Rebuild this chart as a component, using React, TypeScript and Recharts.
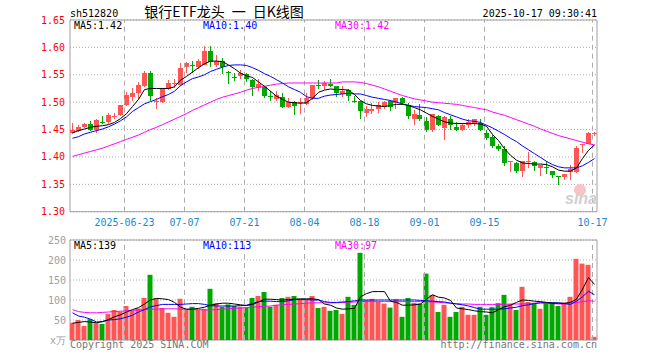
import React from 'react';
import {
  ComposedChart,
  Bar,
  Line,
  XAxis,
  YAxis,
  CartesianGrid,
  ReferenceLine,
  ReferenceArea,
  Cell,
} from 'recharts';

// trading days shown, 2025
const dates = (
  '06-10 06-11 06-12 06-13 06-16 06-17 06-18 06-19 06-20 06-23 06-24 06-25 06-26 06-27 06-30 ' +
  '07-01 07-02 07-03 07-04 07-07 07-08 07-09 07-10 07-11 07-14 07-15 07-16 07-17 07-18 07-21 ' +
  '07-22 07-23 07-24 07-25 07-28 07-29 07-30 07-31 08-01 08-04 08-05 08-06 08-07 08-08 08-11 ' +
  '08-12 08-13 08-14 08-15 08-18 08-19 08-20 08-21 08-22 08-25 08-26 08-27 08-28 08-29 09-01 ' +
  '09-02 09-03 09-04 09-05 09-08 09-09 09-10 09-11 09-12 09-15 09-16 09-17 09-18 09-19 09-22 ' +
  '09-23 09-24 09-25 09-26 09-29 09-30 10-09 10-10 10-13 10-14 10-15 10-16 10-17'
).split(' ');

const open = [
  1.443, 1.448, 1.454, 1.461, 1.45, 1.464, 1.464, 1.472, 1.476, 1.494,
  1.51, 1.516, 1.529, 1.553, 1.502, 1.5, 1.524, 1.534, 1.531, 1.564,
  1.568, 1.565, 1.568, 1.594, 1.567, 1.576, 1.555, 1.546, 1.547, 1.551,
  1.54, 1.525, 1.527, 1.511, 1.505, 1.51, 1.492, 1.5, 1.499, 1.496,
  1.507, 1.531, 1.529, 1.534, 1.529, 1.515, 1.523, 1.503, 1.502, 1.481,
  1.483, 1.487, 1.492, 1.502, 1.498, 1.507, 1.494, 1.47, 1.476, 1.466,
  1.45, 1.475, 1.452, 1.47, 1.455, 1.449, 1.459, 1.462, 1.462, 1.444,
  1.436, 1.42, 1.415, 1.39, 1.389, 1.375, 1.391, 1.391, 1.379, 1.381,
  1.374, 1.366, 1.364, 1.372, 1.372, 1.422, 1.423, 1.444,
];
const high = [
  1.462, 1.459, 1.462, 1.466, 1.469, 1.474, 1.48, 1.48, 1.494, 1.518,
  1.525, 1.536, 1.556, 1.556, 1.507, 1.525, 1.541, 1.542, 1.572, 1.573,
  1.575, 1.579, 1.603, 1.603, 1.586, 1.58, 1.557, 1.554, 1.559, 1.554,
  1.542, 1.542, 1.53, 1.521, 1.521, 1.516, 1.507, 1.502, 1.507, 1.516,
  1.532, 1.54, 1.539, 1.543, 1.53, 1.53, 1.524, 1.512, 1.502, 1.493,
  1.499, 1.5, 1.502, 1.504, 1.508, 1.51, 1.498, 1.486, 1.496, 1.472,
  1.478, 1.477, 1.475, 1.474, 1.464, 1.462, 1.469, 1.47, 1.47, 1.45,
  1.44, 1.424, 1.42, 1.393, 1.39, 1.393, 1.409, 1.393, 1.385, 1.392,
  1.375, 1.366, 1.369, 1.386, 1.42, 1.424, 1.445, 1.445,
];
const low = [
  1.441, 1.445, 1.453, 1.447, 1.444, 1.461, 1.461, 1.47, 1.474, 1.493,
  1.502, 1.505, 1.527, 1.502, 1.487, 1.499, 1.523, 1.525, 1.529, 1.554,
  1.554, 1.561, 1.567, 1.564, 1.564, 1.551, 1.533, 1.539, 1.542, 1.537,
  1.512, 1.521, 1.508, 1.502, 1.502, 1.49, 1.49, 1.476, 1.478, 1.494,
  1.504, 1.524, 1.523, 1.527, 1.51, 1.51, 1.502, 1.499, 1.47, 1.472,
  1.478, 1.481, 1.487, 1.484, 1.488, 1.494, 1.47, 1.459, 1.466, 1.445,
  1.445, 1.456, 1.431, 1.45, 1.447, 1.447, 1.453, 1.456, 1.447, 1.43,
  1.416, 1.41, 1.383, 1.372, 1.371, 1.363, 1.38, 1.375, 1.366, 1.368,
  1.361, 1.349, 1.357, 1.358, 1.371, 1.407, 1.423, 1.439,
];
const close = [
  1.45, 1.455, 1.461, 1.449, 1.467, 1.462, 1.477, 1.475, 1.494, 1.513,
  1.516, 1.532, 1.553, 1.512, 1.503, 1.524, 1.535, 1.535, 1.562, 1.572,
  1.567, 1.575, 1.594, 1.574, 1.576, 1.565, 1.554, 1.545, 1.553, 1.543,
  1.527, 1.533, 1.512, 1.51, 1.513, 1.492, 1.5, 1.493, 1.5, 1.507,
  1.531, 1.529, 1.535, 1.53, 1.516, 1.52, 1.512, 1.502, 1.484, 1.487,
  1.488, 1.494, 1.5, 1.492, 1.508, 1.499, 1.474, 1.478, 1.469, 1.45,
  1.478, 1.458, 1.473, 1.458, 1.45, 1.458, 1.464, 1.469, 1.449, 1.434,
  1.42, 1.415, 1.389, 1.392, 1.375, 1.393, 1.392, 1.384, 1.385, 1.38,
  1.367, 1.365, 1.369, 1.378, 1.417, 1.423, 1.444, 1.444,
];

const ma5 = [
  1.444, 1.448, 1.451, 1.454, 1.456, 1.457, 1.459, 1.463, 1.47, 1.479,
  1.492, 1.505, 1.523, 1.525, 1.525, 1.525, 1.525, 1.528, 1.54, 1.547,
  1.555, 1.563, 1.57, 1.575, 1.575, 1.574, 1.568, 1.561, 1.553, 1.548,
  1.545, 1.537, 1.529, 1.52, 1.511, 1.505, 1.5, 1.499, 1.498, 1.499,
  1.507, 1.518, 1.522, 1.524, 1.523, 1.523, 1.522, 1.514, 1.503, 1.497,
  1.494, 1.493, 1.492, 1.494, 1.496, 1.496, 1.494, 1.49, 1.486, 1.48,
  1.474, 1.469, 1.464, 1.462, 1.461, 1.461, 1.461, 1.461, 1.46, 1.456,
  1.441, 1.43, 1.415, 1.403, 1.394, 1.389, 1.388, 1.387, 1.387, 1.386,
  1.382, 1.376, 1.374, 1.374, 1.38, 1.397, 1.412, 1.422,
];
const ma10 = [
  1.434, 1.437, 1.442, 1.445, 1.448, 1.451, 1.455, 1.46, 1.466, 1.473,
  1.483, 1.49, 1.497, 1.501, 1.505, 1.51, 1.514, 1.52, 1.53, 1.537,
  1.543, 1.546, 1.55, 1.556, 1.56, 1.564, 1.567, 1.568, 1.568, 1.567,
  1.563, 1.558, 1.552, 1.547, 1.541, 1.535, 1.528, 1.523, 1.518, 1.51,
  1.507, 1.507, 1.511, 1.513, 1.514, 1.515, 1.516, 1.515, 1.515, 1.512,
  1.509, 1.507, 1.505, 1.503, 1.5, 1.497, 1.494, 1.492, 1.491, 1.49,
  1.488, 1.486, 1.481, 1.477, 1.473, 1.469, 1.466, 1.465, 1.463, 1.458,
  1.453, 1.447, 1.441, 1.434, 1.428, 1.42, 1.413, 1.406, 1.399, 1.392,
  1.386, 1.382, 1.38, 1.38, 1.38, 1.384, 1.39, 1.397,
];
const ma30 = [
  1.401, 1.404, 1.407, 1.41, 1.413, 1.416, 1.42, 1.424, 1.428, 1.432,
  1.436, 1.44, 1.445, 1.45, 1.454, 1.459, 1.464, 1.469, 1.474, 1.479,
  1.485, 1.49, 1.495, 1.5, 1.505, 1.509, 1.512, 1.515, 1.518, 1.522,
  1.525, 1.527, 1.529, 1.531, 1.533, 1.534, 1.535, 1.535, 1.535, 1.535,
  1.535, 1.535, 1.535, 1.535, 1.535, 1.537, 1.537, 1.537, 1.536, 1.534,
  1.531, 1.528, 1.524, 1.52, 1.516, 1.512, 1.509, 1.506, 1.504, 1.502,
  1.5, 1.499, 1.498, 1.497, 1.496, 1.494, 1.492, 1.49, 1.488, 1.486,
  1.482, 1.479, 1.476, 1.472, 1.468, 1.464, 1.46, 1.456, 1.451, 1.447,
  1.443, 1.439, 1.436, 1.433, 1.43, 1.427, 1.424, 1.422,
];

// volume, 万手
const volume = [
  43, 50, 35, 52, 42, 40, 65, 75, 71, 85,
  73, 79, 105, 163, 104, 80, 68, 58, 103, 75,
  83, 75, 78, 128, 92, 83, 89, 85, 83, 81,
  105, 110, 120, 83, 88, 105, 108, 110, 100, 100,
  110, 80, 83, 73, 75, 65, 108, 88, 218, 100,
  103, 96, 91, 81, 102, 58, 105, 93, 91, 166,
  113, 70, 88, 58, 70, 83, 63, 63, 83, 63,
  82, 92, 113, 90, 75, 133, 95, 92, 78, 92,
  94, 85, 93, 108, 203, 191, 188, 8,
];
const volMa5 = [
  42, 44, 46, 45, 43, 46, 51, 58, 63, 70,
  76, 81, 90, 100, 104, 103, 101, 94, 82, 77,
  77, 79, 82, 87, 90, 92, 92, 90, 88, 86,
  89, 95, 102, 102, 101, 100, 101, 102, 103, 103,
  103, 101, 90, 87, 80, 77, 78, 79, 108, 116,
  121, 121, 121, 97, 94, 87, 87, 88, 90, 102,
  113, 107, 105, 99, 80, 78, 76, 73, 71, 70,
  68, 76, 83, 87, 94, 100, 99, 97, 96, 94,
  92, 92, 92, 94, 102, 127, 156, 139,
];
const volMa10 = [
  68, 60, 57, 52, 45, 46, 50, 51, 53, 57,
  62, 70, 76, 83, 86, 89, 89, 89, 89, 90,
  91, 91, 89, 86, 85, 85, 85, 85, 86, 87,
  91, 96, 97, 97, 96, 96, 98, 101, 101, 101,
  100, 100, 96, 94, 94, 95, 96, 98, 100, 100,
  100, 100, 100, 100, 100, 100, 100, 100, 99, 98,
  97, 96, 95, 92, 90, 88, 85, 81, 77, 77,
  77, 77, 78, 80, 82, 86, 88, 91, 93, 93,
  93, 93, 91, 89, 97, 108, 122, 113,
];
const volMa30 = [
  76, 71, 69, 68, 68, 69, 70, 71, 72, 73,
  74, 75, 76, 77, 77, 78, 78, 78, 77, 77,
  76, 76, 75, 75, 76, 77, 78, 79, 80, 81,
  82, 83, 84, 85, 87, 88, 89, 90, 91, 92,
  93, 93, 93, 93, 93, 94, 94, 95, 96, 96,
  96, 96, 96, 96, 96, 96, 96, 96, 96, 96,
  95, 94, 93, 92, 91, 90, 90, 89, 89, 89,
  89, 89, 89, 90, 90, 90, 91, 92, 93, 92,
  91, 90, 90, 92, 94, 96, 98, 97,
];

const tickDates = ['06-23', '07-07', '07-21', '08-04', '08-18', '09-01', '09-15', '10-17'];
const tickLabels = ['2025-06-23', '07-07', '07-21', '08-04', '08-18', '09-01', '09-15', '10-17'];
const priceTicks = [1.3, 1.35, 1.4, 1.45, 1.5, 1.55, 1.6, 1.65];
const volTicks = [0, 50, 100, 150, 200, 250];

const RED = '#ff5555';
const GREEN = '#00a800';
const GRID = '#acacac';
const FRAME = '#a0a0a0';
const MONO = '"DejaVu Sans Mono", monospace';

const rows = dates.map((date, i) => ({
  i,
  date,
  open: open[i],
  high: high[i],
  low: low[i],
  close: close[i],
  range: [low[i], high[i]],
  up: close[i] >= open[i],
  ma5: ma5[i],
  ma10: ma10[i],
  ma30: ma30[i],
  vol: volume[i],
  vma5: volMa5[i],
  vma10: volMa10[i],
  vma30: volMa30[i],
}));

const xDomain = [-2.5 / 6, dates.length - 1 + 2.5 / 6];
// the date lines sit a little left of the candle centre
const tickPos = tickDates.map((d) => dates.indexOf(d) - 1 / 3);
const last = (a: number[]) => a[a.length - 1];

function Candle(props: any) {
  const { x, y, width, height, payload } = props;
  if (x == null || y == null || !payload) return null;
  const top = Math.min(y, y + height);
  const bot = Math.max(y, y + height);
  const span = payload.high - payload.low;
  const py = (v: number) => (span > 0 ? bot - ((v - payload.low) / span) * (bot - top) : top);
  const cx = Math.floor(x + width / 2) + 0.5;
  const color = payload.up ? RED : GREEN;
  const bTop = py(Math.max(payload.open, payload.close));
  const bBot = py(Math.min(payload.open, payload.close));
  return (
    <g shapeRendering="crispEdges">
      <line x1={cx} x2={cx} y1={top} y2={bot} stroke={color} strokeWidth={1} />
      <rect x={cx - 2.5} y={bTop} width={5} height={Math.max(1, bBot - bTop)} fill={color} />
    </g>
  );
}

const lineProps = { type: 'linear' as const, dot: false, activeDot: false, strokeWidth: 1, isAnimationActive: false };

export default function App() {
  return (
    <div style={{ position: 'absolute', left: 0, top: 0, width: 660, height: 360, background: '#fff' }}>
      <div style={{ position: 'absolute', left: 0, top: 0 }}>
        <ComposedChart width={660} height={240} data={rows} margin={{ top: 20, right: 63, bottom: 0, left: 0 }}>
          <CartesianGrid vertical={false} stroke={GRID} strokeDasharray="1 2" />
          {tickPos.map((p) => (
            <ReferenceLine key={p} x={p} stroke={GRID} strokeDasharray="5 4" />
          ))}
          <XAxis
            type="number"
            dataKey="i"
            domain={xDomain}
            allowDataOverflow
            ticks={tickPos}
            interval={0}
            tickFormatter={(v: number) => tickLabels[tickPos.indexOf(v)]}
            axisLine={false}
            tickLine={false}
            tickSize={0}
            tickMargin={7}
            height={28.3}
            tick={{ fill: '#1a8ad0', fontSize: 10, fontFamily: MONO }}
          />
          <YAxis
            type="number"
            domain={[1.3, 1.65]}
            allowDataOverflow
            ticks={priceTicks}
            interval={0}
            tickFormatter={(v: number) => v.toFixed(2)}
            axisLine={false}
            tickLine={false}
            tickSize={0}
            tickMargin={5}
            width={70}
            tick={{ fill: '#ff0000', fontSize: 10, fontFamily: MONO }}
          />
          <Bar dataKey="range" barSize={5} isAnimationActive={false} shape={(p: any) => <Candle {...p} />} />
          <Line dataKey="ma30" stroke="#ff00ff" {...lineProps} />
          <Line dataKey="ma10" stroke="#0000ff" {...lineProps} />
          <Line dataKey="ma5" stroke="#000000" {...lineProps} />
          <ReferenceArea
            x1={xDomain[0]}
            x2={xDomain[1]}
            y1={1.3}
            y2={1.65}
            fill="none"
            stroke={FRAME}
            ifOverflow="visible"
          />
        </ComposedChart>
      </div>

      <div style={{ position: 'absolute', left: 0, top: 230 }}>
        <ComposedChart width={660} height={120} data={rows} margin={{ top: 10, right: 63, bottom: 10, left: 0 }}>
          <CartesianGrid vertical={false} stroke={GRID} strokeDasharray="1 2" />
          {tickPos.map((p) => (
            <ReferenceLine key={p} x={p} stroke={GRID} strokeDasharray="5 4" />
          ))}
          <XAxis type="number" dataKey="i" domain={xDomain} allowDataOverflow hide />
          <YAxis
            type="number"
            domain={[0, 250]}
            allowDataOverflow
            ticks={volTicks}
            interval={0}
            tickFormatter={(v: number) => (v === 0 ? 'x万' : String(v))}
            axisLine={false}
            tickLine={false}
            tickSize={0}
            tickMargin={4}
            width={70}
            tick={{ fill: '#a0a0a0', fontSize: 10, fontFamily: MONO }}
          />
          <Bar dataKey="vol" barSize={5} isAnimationActive={false}>
            {rows.map((r) => (
              <Cell key={r.i} fill={r.up ? RED : GREEN} />
            ))}
          </Bar>
          <Line dataKey="vma30" stroke="#ff00ff" {...lineProps} />
          <Line dataKey="vma10" stroke="#0000ff" {...lineProps} />
          <Line dataKey="vma5" stroke="#000000" {...lineProps} />
          <ReferenceArea
            x1={xDomain[0]}
            x2={xDomain[1]}
            y1={0}
            y2={250}
            fill="none"
            stroke={FRAME}
            ifOverflow="visible"
          />
        </ComposedChart>
      </div>

      <svg width={660} height={360} style={{ position: 'absolute', left: 0, top: 0, pointerEvents: 'none' }}>
        <text x={70} y={17} fontFamily={MONO} fontSize={10} fill="#000">sh512820</text>
        <text x={224} y={17} textAnchor="middle" fontFamily='"Noto Sans CJK SC"' fontSize={14} fill="#000" xmlSpace="preserve">
          {'银行ETF龙头\u2002一\u2002日K线图'}
        </text>
        <text x={597} y={17} textAnchor="end" fontFamily={MONO} fontSize={10} fill="#000">2025-10-17 09:30:41</text>

        <text x={74} y={29} fontFamily={MONO} fontSize={10} fill="#000">{`MA5:${last(ma5).toFixed(2)}`}</text>
        <text x={203} y={29} fontFamily={MONO} fontSize={10} fill="#0000ff">{`MA10:${last(ma10).toFixed(2)}`}</text>
        <text x={335} y={29} fontFamily={MONO} fontSize={10} fill="#ff00ff">{`MA30:${last(ma30).toFixed(2)}`}</text>

        <text x={74} y={249} fontFamily={MONO} fontSize={10} fill="#000">{`MA5:${last(volMa5)}`}</text>
        <text x={203} y={249} fontFamily={MONO} fontSize={10} fill="#0000ff">{`MA10:${last(volMa10)}`}</text>
        <text x={335} y={249} fontFamily={MONO} fontSize={10} fill="#ff00ff">{`MA30:${last(volMa30)}`}</text>

        <circle cx={580} cy={190} r={6} fill="#f6c4c4" />
        <text x={581} y={204} textAnchor="middle" fontFamily="Liberation Sans" fontSize={16} fontStyle="italic" fontWeight="bold" fill="#d0d0d0">
          sina
        </text>

        <text x={70} y={348} fontFamily={MONO} fontSize={10} fill="#777">Copyright 2025 SINA.COM</text>
        <text x={597} y={348} textAnchor="end" fontFamily={MONO} fontSize={10} fill="#777">http://finance.sina.com.cn</text>
      </svg>
    </div>
  );
}
